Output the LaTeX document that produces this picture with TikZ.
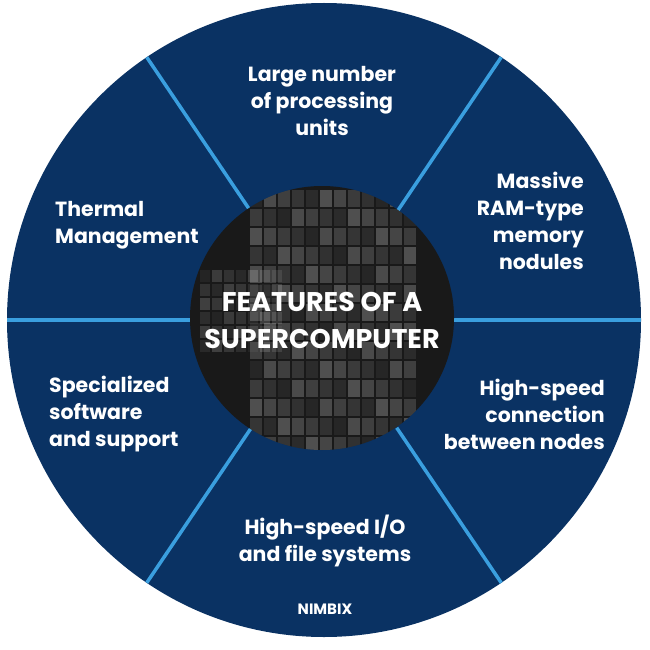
\documentclass[tikz,border=0pt]{standalone}
\usepackage{fontspec}
\setmainfont{Poppins}
\usetikzlibrary{calc}
\definecolor{navy}{HTML}{0A3263}
\definecolor{divblue}{HTML}{3A9FDF}
\begin{document}
\begin{tikzpicture}[x=1pt,y=-1pt,
  feat/.style={text=white,font=\fontsize{20.5}{27}\selectfont\bfseries,inner sep=0pt},
  divider/.style={draw=divblue,line width=3.5pt}]
\useasboundingbox (0,0) rectangle (650,650);
\coordinate (c) at (324,320);
\fill[navy] (c) circle (317);
\foreach \a in {0,56,124,180,236,304}{
  \draw[divider] ($(c)+(\a:130)$) -- ($(c)+(\a:317)$);
}
\node[circle,minimum size=264pt,inner sep=0pt,fill=black!90] (hub) at (322,318) {};
\begin{scope}
\clip (322,318) circle (132);
\foreach \i in {0,...,11}{
  \foreach \j in {0,...,13}{
    \pgfmathsetmacro{\g}{mod(\i*7+\j*13,9)*2.2+6}
    \fill[white,opacity=\g/100] (250+\i*14,190+\j*19) rectangle ++(12,17);
  }
}
\foreach \i in {0,...,6}{
  \foreach \j in {0,...,5}{
    \pgfmathsetmacro{\g}{mod(\i*5+\j*3,7)*2+5}
    \fill[white,opacity=\g/100] (200+\i*12,270+\j*14) rectangle ++(10,12);
  }
}
\end{scope}
\node[text=white,font=\fontsize{27}{37}\selectfont\bfseries,align=center] (title) at (322,320) {FEATURES OF A\\SUPERCOMPUTER};
\node[feat,align=center] (f1) at (322,101) {Large number\\of processing\\units};
\node[feat,align=right,anchor=east] (f2) at (584,221) {Massive\\RAM-type\\memory\\nodules};
\node[feat,align=left,anchor=west] (f3) at (55,225) {Thermal\\Management};
\node[feat,align=right,anchor=east] (f4) at (605,414) {High-speed\\connection\\between nodes};
\node[feat,align=left,anchor=west] (f5) at (49,414) {Specialized\\software\\and support};
\node[feat,align=center] (f6) at (325,541) {High-speed I/O\\and file systems};
\node[text=white,font=\fontsize{15}{17}\selectfont\bfseries] (logo) at (325,609) {NIMBIX};
\end{tikzpicture}
\end{document}
